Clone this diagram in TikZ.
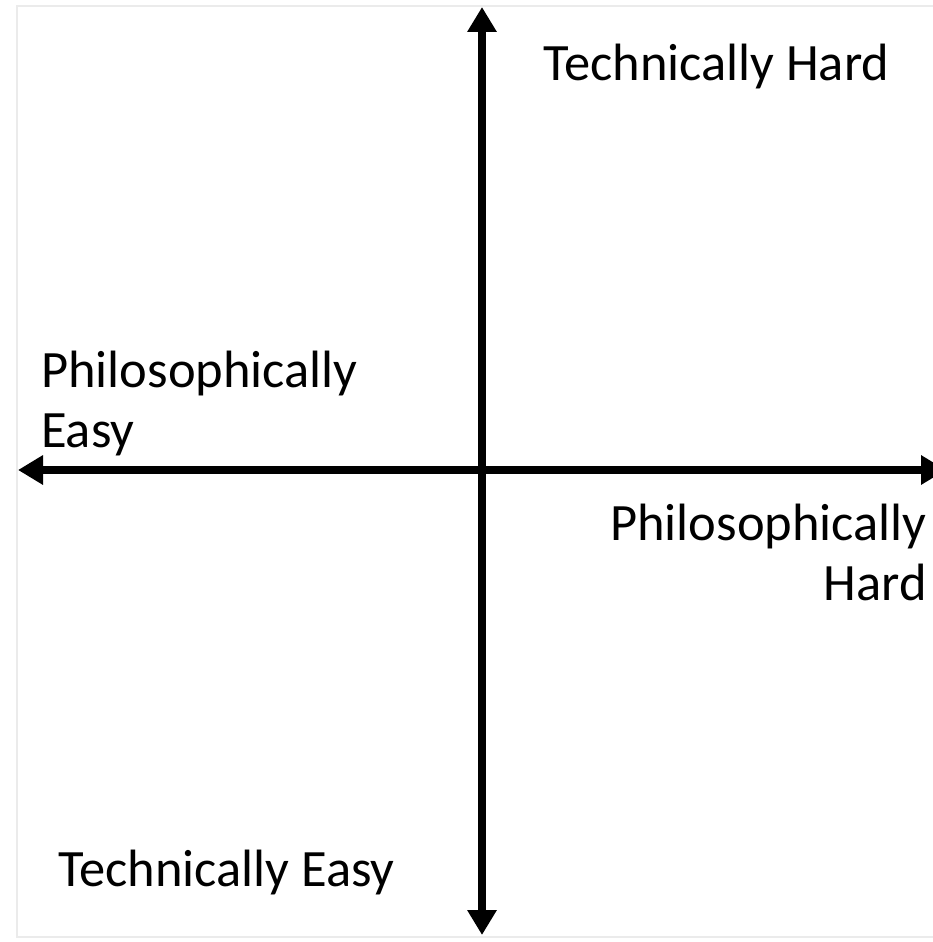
\documentclass[tikz,border=0pt]{standalone}
\usepackage{fontspec}
\setmainfont{Carlito}
\usetikzlibrary{arrows.meta}
\tikzset{
  axis/.style={line width=8pt, -{Triangle[length=25pt,width=28pt]}},
  lbl/.style={inner sep=0pt, font=\fontsize{52.5}{60}\selectfont},
}
\begin{document}
\begin{tikzpicture}[x=1pt,y=-1pt]
\useasboundingbox (0,0) rectangle (933,942);
\draw[black!8, line width=1.5pt] (17,6) rectangle (945,937);
\coordinate (o) at (482,470);
\coordinate (top) at (482,7);
\coordinate (bot) at (482,935);
\coordinate (left) at (18,470);
\coordinate (right) at (946,470);
\draw[axis] (o) -- (top);
\draw[axis] (o) -- (bot);
\draw[axis] (o) -- (left);
\draw[axis] (o) -- (right);
\node[lbl, anchor=base west] (th) at (543,81) {Technically Hard};
\node[lbl, anchor=base west] (te) at (58,886) {Technically Easy};
\node[lbl, anchor=base west, align=left] (pe) at (41,447) {Philosophically\\Easy};
\node[lbl, anchor=base east, align=right] (ph) at (927,600) {Philosophically\\Hard};
\end{tikzpicture}
\end{document}
